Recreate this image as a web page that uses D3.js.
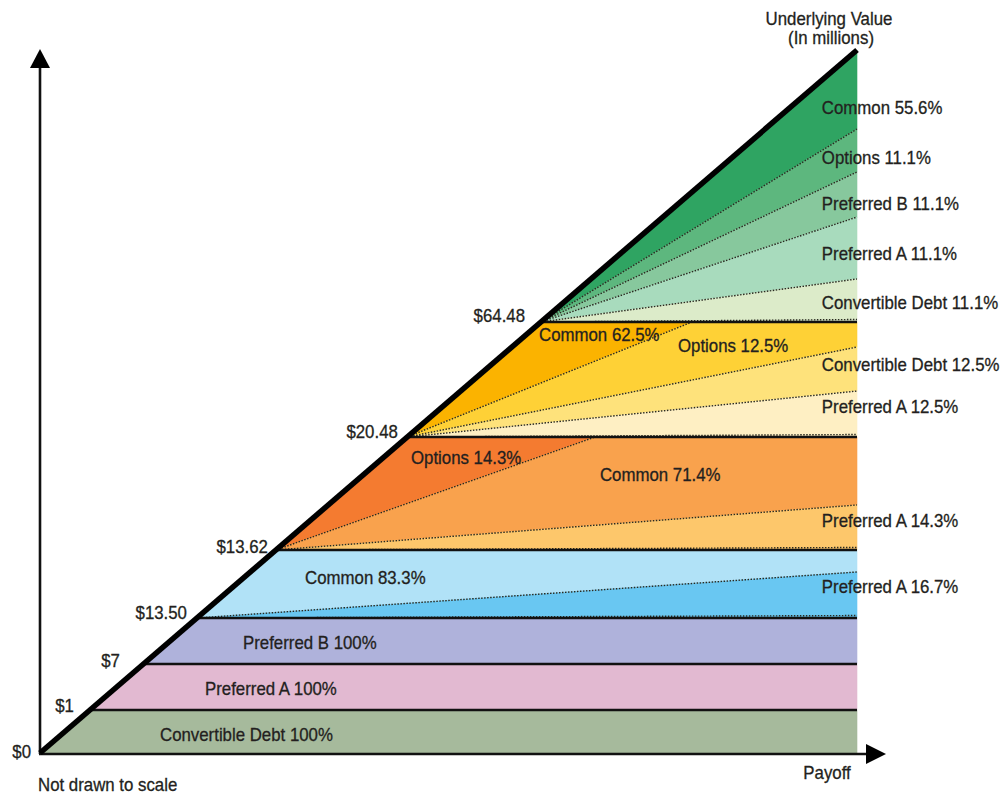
<!DOCTYPE html>
<html>
<head>
<meta charset="utf-8">
<script src="https://cdn.jsdelivr.net/npm/d3@7"></script>
<style>
  html, body { margin: 0; padding: 0; background: #fff; }
  svg { display: block; }
  text { font-family: "Liberation Sans", Arial, sans-serif; fill: #231f20; stroke: #231f20; stroke-width: 0.3; }
</style>
</head>
<body>
<div id="chart"></div>
<script>
// ---------- DATA ("not drawn to scale") ----------
// Breakpoints of the underlying value and the drawn height (0-100) of each
const tickLabels = ["$0", "$1", "$7", "$13.50", "$13.62", "$20.48", "$64.48"];
const tickLevels = [0, 6.12, 12.66, 19.2, 28.88, 44.95, 61.31];
const topLevel = 100;

// Slices of each tranche band (top to bottom within a band)
const sliceBand   = [0, 1, 2, 3, 3, 4, 4, 4, 5, 5, 5, 5, 6, 6, 6, 6, 6];
const sliceHolder = ["Convertible Debt", "Preferred A", "Preferred B",
                     "Common", "Preferred A",
                     "Options", "Common", "Preferred A",
                     "Common", "Options", "Convertible Debt", "Preferred A",
                     "Common", "Options", "Preferred B", "Preferred A", "Convertible Debt"];
const sliceShare  = ["100%", "100%", "100%",
                     "83.3%", "16.7%",
                     "14.3%", "71.4%", "14.3%",
                     "62.5%", "12.5%", "12.5%", "12.5%",
                     "55.6%", "11.1%", "11.1%", "11.1%", "11.1%"];
// where the lower divider of each slice meets the band outline: "top" edge (payoff units) or "right" edge (value units)
const sliceCutEdge  = [null, null, null, "right", null, "top", "right", null, "top", "right", "right", null, "right", "right", "right", "right", null];
const sliceCutValue = [null, null, null, 25.75, null, 67.93, 35.28, null, 79.8, 57.75, 51.49, null, 88.76, 82.65, 76.24, 67.43, null];
const sliceColor  = ["#a6ba9c", "#e2b9d1", "#afb2db",
                     "#b1e2f7", "#69c7f2",
                     "#f47b30", "#f9a24d", "#fdc76b",
                     "#fbb300", "#fed136", "#fee27b", "#feefc3",
                     "#2fa462", "#5db77e", "#87c89d", "#a8dbbd", "#dcebc9"];
// label anchor for each slice (payoff units, value units)
const sliceLabelX = [14.69, 20.2, 24.85, 32.44, 95.7, 45.41, 68.54, 95.7, 61.08, 78.09, 95.7, 95.7, 95.7, 95.7, 95.7, 95.7, 95.7];
const sliceLabelY = [2.56, 9.10, 15.65, 24.89, 23.61, 41.96, 39.55, 33.0, 59.46, 57.9, 55.19, 49.22, 91.75, 84.64, 78.09, 70.98, 64.01];
// breakpoint label anchors (right end, payoff units / value units)
const tickLabelX = [-1.1, 4.16, 9.79, 17.99, 27.9, 43.8, 59.37];
const tickLabelY = [0.14, 6.69, 13.09, 19.92, 29.3, 45.66, 62.16];

// ---------- LAYOUT ----------
const W = 1003, H = 794;
const x = d3.scaleLinear().domain([0, 100]).range([40, 857]);   // payoff
const y = d3.scaleLinear().domain([0, 100]).range([753, 50]);   // underlying value (drawn)
const FS = 18, SX = 0.935;  // narrow, tall lettering

const svg = d3.select("#chart").append("svg").attr("width", W).attr("height", H);

const levels = tickLevels.concat([topLevel]);
const nBands = tickLevels.length;

function bandOutline(b) {
  const lb = levels[b], lt = levels[b + 1];
  const A = [x(lb), y(lb)], TL = [x(lt), y(lt)], TR = [x(100), y(lt)], BR = [x(100), y(lb)];
  return [A, TL, TR, BR, A];
}

const slices = sliceBand.map((b, i) => ({
  band: b, holder: sliceHolder[i], share: sliceShare[i], edge: sliceCutEdge[i],
  cut: sliceCutValue[i], color: sliceColor[i], lx: sliceLabelX[i], ly: sliceLabelY[i]
}));

const polys = [];
const dividers = [];
for (let b = 0; b < nBands; b++) {
  const P = bandOutline(b);
  const lt = levels[b + 1];
  const bs = slices.filter(s => s.band === b);
  let ps = P[0], si = 0;
  bs.forEach(s => {
    let pe, ei;
    if (s.edge === "top") { pe = [x(s.cut), y(lt)]; ei = 1; }
    else if (s.edge === "right") { pe = [x(100), y(s.cut)]; ei = 2; }
    else { pe = P[4]; ei = 3; }
    const pts = [P[0], ps];
    for (let j = si + 1; j <= ei; j++) pts.push(P[j]);
    pts.push(pe);
    polys.push({ pts, color: s.color });
    if (s.edge) dividers.push([P[0], pe]);
    ps = pe; si = ei;
  });
  if (bs.length > 1) dividers.push([P[0], [x(100), P[0][1] - 2.5]]);
}

const line = d3.line();

svg.append("g").selectAll("path").data(polys).join("path")
  .attr("d", d => line(d.pts) + "Z")
  .attr("fill", d => d.color)
  .attr("stroke", d => d.color)
  .attr("stroke-width", 0.6);

svg.append("g").selectAll("path").data(dividers).join("path")
  .attr("d", d => line(d))
  .attr("fill", "none")
  .attr("stroke", "#2a2a20")
  .attr("stroke-width", 1.4)
  .attr("stroke-dasharray", "1.5,1.5");

// band separators
svg.append("g").selectAll("line").data(tickLevels.slice(1)).join("line")
  .attr("x1", d => x(d)).attr("x2", x(100))
  .attr("y1", d => y(d)).attr("y2", d => y(d))
  .attr("stroke", "#111").attr("stroke-width", 2.6);

// axes with arrows
const axisG = svg.append("g");
axisG.append("line").attr("x1", x(0)).attr("x2", x(0)).attr("y1", y(0) + 1).attr("y2", 66)
  .attr("stroke", "#111").attr("stroke-width", 2.6);
axisG.append("path").attr("d", `M${x(0)},49 L${x(0) - 10},68 L${x(0) + 10},68 Z`).attr("fill", "#000");
axisG.append("line").attr("x1", x(0) - 1).attr("x2", 868).attr("y1", y(0) + 1).attr("y2", y(0) + 1)
  .attr("stroke", "#111").attr("stroke-width", 2.6);
axisG.append("path").attr("d", `M886,${y(0) + 1} L866,${y(0) - 9} L866,${y(0) + 11} Z`).attr("fill", "#000");

// diagonal (payoff = value)
svg.append("line")
  .attr("x1", x(0)).attr("y1", y(0)).attr("x2", x(100)).attr("y2", y(100))
  .attr("stroke", "#000").attr("stroke-width", 5.5);

function label(g, px, py, txt, anchor) {
  return g.append("text")
    .attr("transform", `translate(${px},${py}) scale(${SX},1)`)
    .attr("dy", "0.35em")
    .attr("font-size", FS)
    .attr("text-anchor", anchor || "start")
    .text(txt);
}

const lg = svg.append("g");
slices.forEach(d => label(lg, x(d.lx), y(d.ly), d.holder + " " + d.share));
tickLabels.forEach((d, i) => label(lg, x(tickLabelX[i]), y(tickLabelY[i]), d, "end"));

label(lg, 829, 19, "Underlying Value", "middle");
label(lg, 831, 38, "(In millions)", "middle");
label(lg, 827, 773, "Payoff", "middle");
label(lg, 38, 785, "Not drawn to scale");
</script>
</body>
</html>
